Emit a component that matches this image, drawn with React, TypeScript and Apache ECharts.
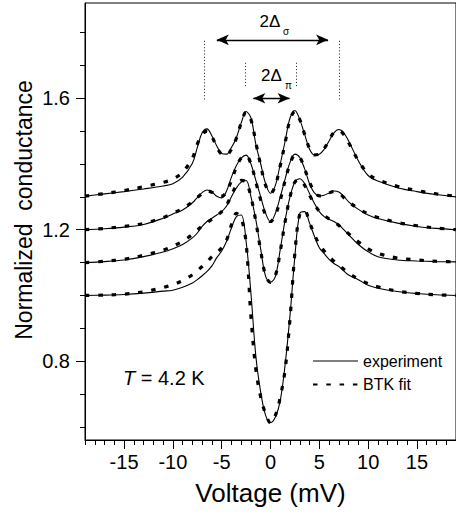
import React, { useEffect, useRef } from "react";
import * as echarts from "echarts";

// Bias voltage (mV) at which the curves are read
const VOLTAGE = [-19, -17, -15, -13, -11, -10, -9, -8, -7.5, -7, -6.5, -6, -5.5, -5, -4.5, -4, -3.5, -3, -2.5, -2, -1.5, -1, -0.5, 0, 0.5, 1, 1.5, 2, 2.5, 3, 3.5, 4, 4.5, 5, 5.5, 6, 6.5, 7, 7.5, 8, 9, 10, 11, 13, 15, 17, 19];

// Experimental curves (offset by 0.3, 0.2, 0.1, 0)
const EXP_1 = [1.302, 1.309, 1.316, 1.324, 1.333, 1.340, 1.360, 1.402, 1.450, 1.495, 1.507, 1.485, 1.455, 1.432, 1.430, 1.450, 1.480, 1.525, 1.560, 1.540, 1.460, 1.400, 1.340, 1.311, 1.335, 1.400, 1.470, 1.540, 1.563, 1.535, 1.490, 1.445, 1.428, 1.430, 1.445, 1.470, 1.495, 1.505, 1.495, 1.470, 1.410, 1.365, 1.348, 1.328, 1.316, 1.307, 1.300];
const EXP_2 = [1.200, 1.203, 1.208, 1.216, 1.235, 1.248, 1.260, 1.282, 1.298, 1.313, 1.321, 1.315, 1.302, 1.297, 1.318, 1.360, 1.395, 1.418, 1.427, 1.400, 1.350, 1.300, 1.250, 1.224, 1.250, 1.300, 1.355, 1.405, 1.430, 1.420, 1.385, 1.340, 1.312, 1.303, 1.305, 1.312, 1.318, 1.315, 1.302, 1.285, 1.262, 1.245, 1.234, 1.220, 1.210, 1.204, 1.200];
const EXP_3 = [1.100, 1.103, 1.108, 1.118, 1.132, 1.142, 1.155, 1.175, 1.190, 1.210, 1.225, 1.235, 1.245, 1.255, 1.272, 1.300, 1.327, 1.345, 1.350, 1.300, 1.230, 1.140, 1.058, 1.040, 1.058, 1.140, 1.230, 1.300, 1.345, 1.355, 1.340, 1.310, 1.280, 1.255, 1.240, 1.232, 1.225, 1.215, 1.200, 1.185, 1.155, 1.133, 1.118, 1.108, 1.105, 1.103, 1.102];
const EXP_4 = [1.000, 1.001, 1.003, 1.007, 1.013, 1.016, 1.025, 1.038, 1.048, 1.060, 1.073, 1.090, 1.115, 1.135, 1.165, 1.205, 1.240, 1.245, 1.165, 1.005, 0.815, 0.705, 0.635, 0.613, 0.630, 0.680, 0.790, 0.940, 1.120, 1.250, 1.255, 1.220, 1.180, 1.145, 1.127, 1.110, 1.097, 1.088, 1.075, 1.062, 1.048, 1.031, 1.022, 1.012, 1.006, 1.002, 1.000];

// BTK fits
const FIT_1 = [1.302, 1.310, 1.319, 1.331, 1.344, 1.354, 1.375, 1.418, 1.460, 1.490, 1.500, 1.483, 1.452, 1.430, 1.428, 1.445, 1.478, 1.525, 1.558, 1.535, 1.465, 1.395, 1.335, 1.310, 1.335, 1.395, 1.465, 1.535, 1.560, 1.535, 1.490, 1.447, 1.428, 1.430, 1.447, 1.472, 1.497, 1.502, 1.490, 1.465, 1.410, 1.370, 1.352, 1.332, 1.319, 1.309, 1.302];
const FIT_2 = [1.200, 1.204, 1.210, 1.219, 1.237, 1.250, 1.264, 1.285, 1.298, 1.310, 1.318, 1.314, 1.305, 1.302, 1.315, 1.350, 1.390, 1.418, 1.425, 1.400, 1.345, 1.290, 1.245, 1.225, 1.245, 1.290, 1.350, 1.400, 1.427, 1.420, 1.385, 1.345, 1.315, 1.303, 1.305, 1.312, 1.316, 1.312, 1.298, 1.285, 1.264, 1.248, 1.237, 1.222, 1.212, 1.205, 1.200];
const FIT_3 = [1.100, 1.104, 1.110, 1.122, 1.138, 1.150, 1.165, 1.185, 1.198, 1.212, 1.222, 1.232, 1.243, 1.255, 1.275, 1.305, 1.335, 1.350, 1.345, 1.300, 1.225, 1.135, 1.060, 1.040, 1.060, 1.135, 1.225, 1.300, 1.345, 1.352, 1.335, 1.305, 1.278, 1.256, 1.243, 1.233, 1.224, 1.213, 1.200, 1.188, 1.163, 1.142, 1.128, 1.114, 1.108, 1.104, 1.102];
const FIT_4 = [1.000, 1.001, 1.004, 1.011, 1.024, 1.033, 1.045, 1.063, 1.075, 1.088, 1.102, 1.118, 1.130, 1.145, 1.168, 1.215, 1.250, 1.235, 1.160, 0.935, 0.775, 0.690, 0.640, 0.612, 0.635, 0.690, 0.775, 0.930, 1.130, 1.248, 1.258, 1.222, 1.185, 1.155, 1.135, 1.118, 1.104, 1.092, 1.080, 1.068, 1.050, 1.036, 1.026, 1.013, 1.006, 1.002, 1.000];

// Axis ticks
const X_MAJOR = [-15, -10, -5, 0, 5, 10, 15];
const X_MINOR = [-19, -18, -17, -16, -14, -13, -12, -11, -9, -8, -7, -6, -4, -3, -2, -1, 1, 2, 3, 4, 6, 7, 8, 9, 11, 12, 13, 14, 16, 17, 18, 19];
const Y_MAJOR = [0.8, 1.2, 1.6];
const Y_MINOR = [0.6, 0.7, 0.9, 1.0, 1.1, 1.3, 1.4, 1.5, 1.7, 1.8];

// Gap annotations (mV)
const SIGMA_MARKS = [-6.75, 7.05];
const PI_MARKS = [-2.63, 2.63];
const SIGMA_ARROW = [-5.5, 5.9];
const PI_ARROW = [-1.76, 1.96];

const FONT = "'Liberation Sans', Arial, sans-serif";

const zip = (ys: number[]) => VOLTAGE.map((x, i) => [x, ys[i]]);

export default function App() {
  const ref = useRef<HTMLDivElement>(null);
  useEffect(() => {
    if (!ref.current) return;
    const chart = echarts.init(ref.current, undefined, { renderer: "svg" });
    const expStyle = { color: "#000", width: 1.1 };
    const fitStyle = { color: "#000", width: 3.2, type: [4.5, 8.8] as any };
    const expSeries = [EXP_1, EXP_2, EXP_3, EXP_4].map((d, i) => ({
      type: "line",
      name: "experiment",
      data: zip(d),
      symbol: "none",
      smooth: 0.35,
      color: "#000",
      itemStyle: { color: "#000" },
      lineStyle: expStyle,
      z: 2,
      silent: true,
      ...(i === 0
        ? {
            markLine: {
              silent: true,
              symbol: ["arrow", "arrow"],
              symbolSize: [8, 12],
              label: { show: false },
              lineStyle: { color: "#000", width: 1.3, type: "solid" },
              data: [
                [{ coord: [SIGMA_ARROW[0], 1.778] }, { coord: [SIGMA_ARROW[1], 1.778] }],
                [{ coord: [PI_ARROW[0], 1.6] }, { coord: [PI_ARROW[1], 1.6] }],
              ],
            },
          }
        : {}),
      ...(i === 1
        ? {
            markLine: {
              silent: true,
              symbol: "none",
              label: { show: false },
              lineStyle: { color: "#222", width: 1, type: [1, 2.2] },
              data: [
                ...SIGMA_MARKS.map((x) => [{ coord: [x, 1.775] }, { coord: [x, 1.595] }]),
                ...PI_MARKS.map((x) => [{ coord: [x, 1.708] }, { coord: [x, 1.632] }]),
              ],
            },
          }
        : {}),
    }));
    const fitSeries = [FIT_1, FIT_2, FIT_3, FIT_4].map((d) => ({
      type: "line",
      name: "BTK fit",
      data: zip(d),
      symbol: "none",
      smooth: 0.35,
      color: "#000",
      itemStyle: { color: "#000" },
      lineStyle: fitStyle,
      z: 3,
      silent: true,
    }));

    const axisLineStyle = { color: "#000", width: 1 };
    chart.setOption({
      animation: false,
      color: ["#000"],
      textStyle: { fontFamily: FONT, color: "#000" },
      grid: { left: 85, top: 3, right: -3, bottom: 77, show: true, borderColor: "#000", borderWidth: 1, backgroundColor: "transparent" },
      legend: {
        orient: "vertical",
        left: 307,
        top: 348,
        itemWidth: 45,
        itemHeight: 16,
        itemGap: 7.5,
        selectedMode: false,
        itemStyle: { opacity: 0, borderWidth: 0 },
        textStyle: { fontSize: 16, color: "#000", fontFamily: FONT },
        data: [
          { name: "experiment", lineStyle: { color: "#555", width: 1.4 } },
          { name: "BTK fit" },
        ],
      },
      xAxis: [
        {
          type: "value",
          min: -19,
          max: 19,
          position: "bottom",
          axisLine: { show: true, onZero: false, lineStyle: axisLineStyle },
          axisTick: { show: true, length: 9, customValues: X_MAJOR, lineStyle: axisLineStyle },
          axisLabel: { customValues: X_MAJOR, fontSize: 20, color: "#000", margin: 12, fontFamily: FONT },
          splitLine: { show: false },
          name: "Voltage (mV)",
          nameLocation: "middle",
          nameGap: 40,
          nameTextStyle: { fontSize: 26, color: "#000", fontFamily: FONT },
        },
        {
          type: "value",
          min: -19,
          max: 19,
          position: "bottom",
          axisLine: { show: false, onZero: false },
          axisTick: { show: true, length: 5, customValues: X_MINOR, lineStyle: axisLineStyle },
          axisLabel: { show: false },
          splitLine: { show: false },
        },
      ],
      yAxis: [
        {
          type: "value",
          min: 0.56,
          max: 1.89,
          position: "left",
          axisLine: { show: true, onZero: false, lineStyle: axisLineStyle },
          axisTick: { show: true, length: 9, customValues: Y_MAJOR, lineStyle: axisLineStyle },
          axisLabel: { customValues: Y_MAJOR, fontSize: 20, color: "#000", margin: 15, fontFamily: FONT },
          splitLine: { show: false },
        },
        {
          type: "value",
          min: 0.56,
          max: 1.89,
          position: "left",
          axisLine: { show: false, onZero: false },
          axisTick: { show: true, length: 5, customValues: Y_MINOR, lineStyle: axisLineStyle },
          axisLabel: { show: false },
          splitLine: { show: false },
        },
      ],
      graphic: [
        {
          type: "text",
          x: 24,
          y: 210,
          rotation: Math.PI / 2,
          style: { text: "Normalized  conductance", fontSize: 23, fontFamily: FONT, fill: "#000", align: "center", verticalAlign: "middle", textAlign: "center", textVerticalAlign: "middle" },
        },
        {
          type: "text",
          x: 123,
          y: 378,
          style: {
            text: "{i|T} = 4.2 K",
            fontSize: 20,
            fontFamily: FONT,
            fill: "#000",
            align: "left",
            verticalAlign: "middle",
            textAlign: "left",
            textVerticalAlign: "middle",
            rich: { i: { fontStyle: "italic", fontSize: 20, fontFamily: FONT, fill: "#000" } },
          },
        },
        {
          type: "text",
          x: 270,
          y: 21,
          style: { text: "2Δ", fontSize: 17, fontFamily: FONT, fill: "#000", align: "center", verticalAlign: "middle", textAlign: "center", textVerticalAlign: "middle" },
        },
        {
          type: "text",
          x: 283,
          y: 31.5,
          style: { text: "σ", fontSize: 10, fontFamily: FONT, fill: "#000", align: "left", verticalAlign: "middle", textAlign: "left", textVerticalAlign: "middle" },
        },
        {
          type: "text",
          x: 271.5,
          y: 75.5,
          style: { text: "2Δ", fontSize: 17, fontFamily: FONT, fill: "#000", align: "center", verticalAlign: "middle", textAlign: "center", textVerticalAlign: "middle" },
        },
        {
          type: "text",
          x: 285,
          y: 85,
          style: { text: "π", fontSize: 10, fontFamily: FONT, fill: "#000", align: "left", verticalAlign: "middle", textAlign: "left", textVerticalAlign: "middle" },
        },
      ],
      series: [...expSeries, ...fitSeries],
    });
    return () => chart.dispose();
  }, []);
  return (
    <div
      ref={ref}
      style={{ position: "fixed", left: 0, top: 0, width: 456, height: 517, overflow: "hidden", background: "#fff" }}
    />
  );
}
